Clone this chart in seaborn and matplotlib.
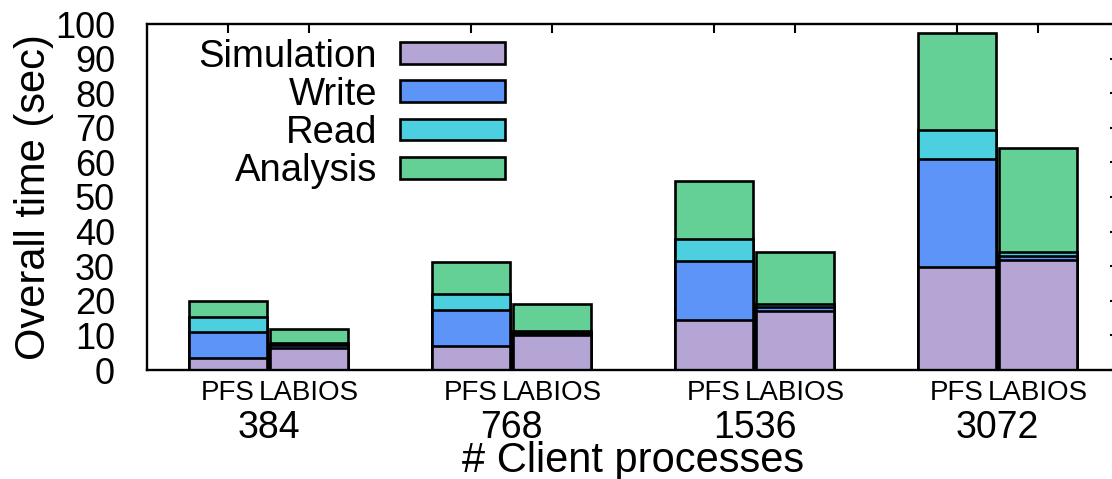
import matplotlib
matplotlib.use("Agg")
import matplotlib.pyplot as plt
from matplotlib.patches import Patch
import numpy as np
import pandas as pd
import seaborn as sns

# Client process counts (groups) and the two storage systems compared
process_counts = ["384", "768", "1536", "3072"]
systems = ["PFS", "LABIOS"]
phases = ["Simulation", "Write", "Read", "Analysis"]

# Time spent in each phase (seconds), per process count
sim_pfs = [3.4, 7.0, 14.5, 29.7]
sim_labios = [6.5, 10.0, 17.1, 31.8]
write_pfs = [7.5, 10.4, 17.1, 31.3]
write_labios = [0.8, 0.7, 1.2, 1.2]
read_pfs = [4.4, 4.7, 6.3, 8.3]
read_labios = [0.6, 0.6, 0.9, 1.2]
analysis_pfs = [4.6, 9.2, 16.7, 28.2]
analysis_labios = [3.9, 7.7, 14.8, 29.9]

phase_colors = ["#b5a5d5", "#5c94f8", "#4cd0e0", "#64d096"]

sns.set_style("white")
plt.rcParams["font.family"] = ["Liberation Sans", "DejaVu Sans"]
plt.rcParams["axes.edgecolor"] = "black"
plt.rcParams["axes.labelcolor"] = "black"
plt.rcParams["text.color"] = "black"
plt.rcParams["xtick.color"] = "black"
plt.rcParams["ytick.color"] = "black"

series = {
    ("PFS", "Simulation"): sim_pfs, ("LABIOS", "Simulation"): sim_labios,
    ("PFS", "Write"): write_pfs, ("LABIOS", "Write"): write_labios,
    ("PFS", "Read"): read_pfs, ("LABIOS", "Read"): read_labios,
    ("PFS", "Analysis"): analysis_pfs, ("LABIOS", "Analysis"): analysis_labios,
}

rows = []
for g, count in enumerate(process_counts):
    for s, system in enumerate(systems):
        row = {"pos": 3 * g + s, "system": system, "count": count}
        for ph in phases:
            row[ph] = series[(system, ph)][g]
        rows.append(row)
df = pd.DataFrame(rows)

# cumulative heights so the stack can be drawn back-to-front
running = np.zeros(len(df))
for k, ph in enumerate(phases):
    running = running + df[ph].to_numpy()
    df[f"cum_{k}"] = running

fig = plt.figure(figsize=(11.12, 4.79), dpi=100)
ax = fig.add_axes([147 / 1112, 109 / 479, 972 / 1112, 346 / 479])

for k in reversed(range(len(phases))):
    sns.barplot(data=df, x="pos", y=f"cum_{k}", native_scale=True, width=0.96,
                color=phase_colors[k], saturation=1, edgecolor="black",
                linewidth=1.9, errorbar=None, ax=ax, zorder=2)

ax.set_xlim(-1, 11)
ax.set_ylim(0, 100)
ax.set_yticks(range(0, 101, 10))
ax.set_xticks(df["pos"].tolist(), df["system"].tolist())
ax.set_axisbelow(True)

for sp in ax.spines.values():
    sp.set_visible(True)
    sp.set_linewidth(1.7)
    sp.set_color("black")
    sp.set_zorder(3)

ax.tick_params(axis="both", direction="in", top=True, right=True,
               length=6.5, width=1.5, color="black")
ax.tick_params(axis="y", labelsize=26, pad=23)
ax.tick_params(axis="x", labelsize=20, pad=7)

# process-count labels under each pair of bars
for g, count in enumerate(process_counts):
    ax.annotate(count, xy=(3 * g + 0.5, 0), xycoords=("data", "axes fraction"),
                xytext=(0, -49), textcoords="offset points",
                ha="center", va="baseline", fontsize=27)

ax.set_xlabel("# Client processes", fontsize=30)
ax.xaxis.set_label_coords(0.5, (370 - 472) / 346)
ax.xaxis.label.set_va("baseline")

ax.set_ylabel("Overall time (sec)", fontsize=30)
ax.yaxis.set_label_coords((34 - 147) / 972, 0.5)
ax.yaxis.label.set_va("center")

handles = [Patch(facecolor=c, edgecolor="black", linewidth=1.9) for c in phase_colors]
ax.legend(handles, phases, loc="upper right", bbox_to_anchor=((505 - 147) / 972, 0.958),
          frameon=False, markerfirst=False, fontsize=27.5, handlelength=2.75,
          handleheight=0.5, handletextpad=0.6, labelspacing=0.06,
          borderpad=0, borderaxespad=0)

fig.savefig("out.png", dpi=100)
